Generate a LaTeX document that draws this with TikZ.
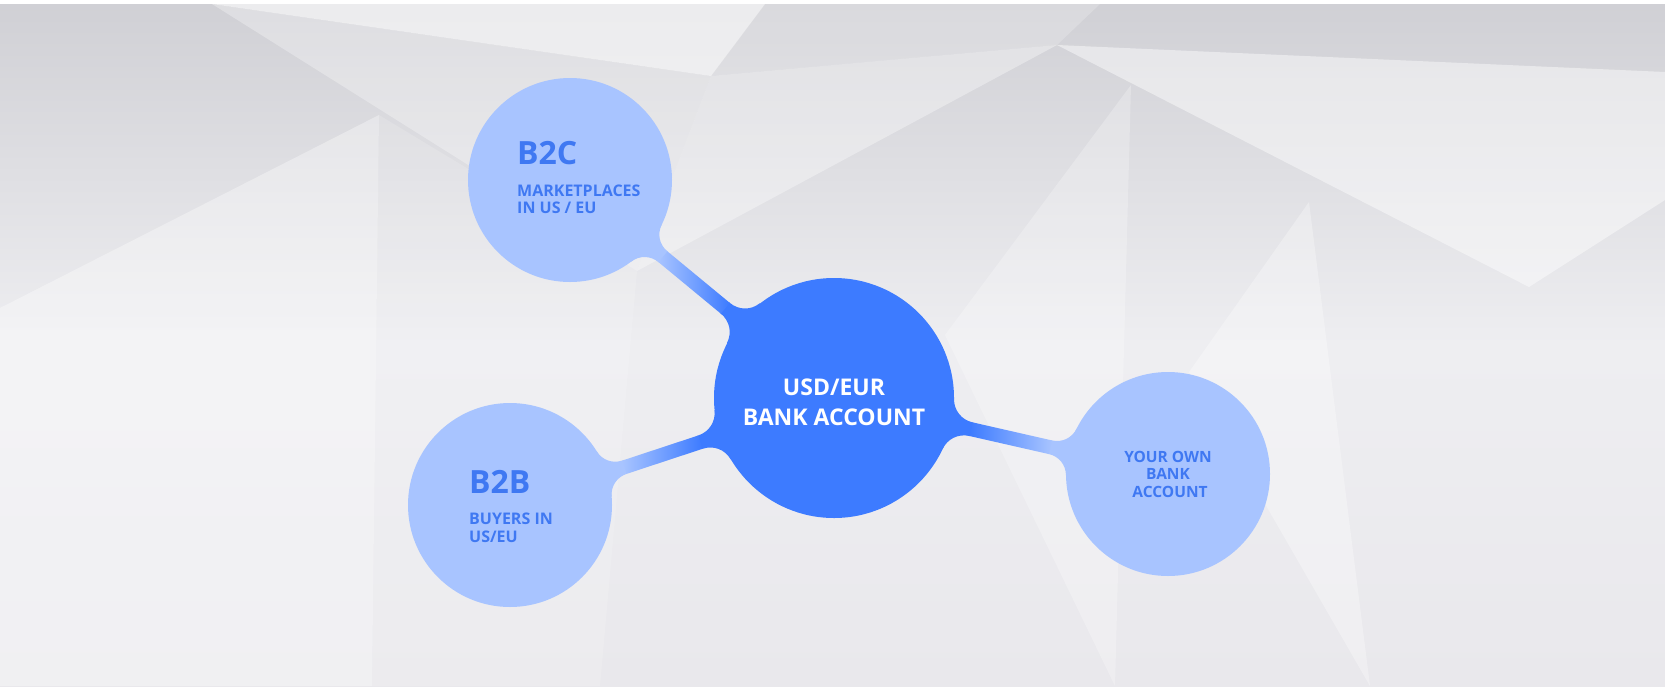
\documentclass[tikz,border=0pt]{standalone}
\usepackage{fontspec}
\setmainfont{Open Sans}
\definecolor{lightb}{HTML}{A8C4FF}
\definecolor{darkb}{HTML}{3D7BFF}
\definecolor{txtb}{HTML}{3F78F2}
\definecolor{bgtop}{HTML}{D0D0D5}
\definecolor{bgmid}{HTML}{EEEEF1}
\definecolor{bgbot}{HTML}{E9E8EC}
% metaball-like bridge between two circles: Ax Ay rA Bx By rB halfwidth filletA filletB
\newcommand\mybridge[9]{%
\pgfmathsetmacro\dX{#4-#1}%
\pgfmathsetmacro\dY{#5-#2}%
\pgfmathsetmacro\LL{10*veclen(\dX/10,\dY/10)}%
\pgfmathsetmacro\ang{atan2(-\dY,\dX)}%
\pgfmathsetmacro\tA{10*sqrt(((#3-#7)/10)*((#3+#7+2*#8)/10))}%
\pgfmathsetmacro\kA{#3/(#3+#8)}%
\pgfmathsetmacro\PAx{\kA*\tA}%
\pgfmathsetmacro\PAy{\kA*(#7+#8)}%
\pgfmathsetmacro\XAx{\tA-#8*(#3-#7)/\tA}%
\pgfmathsetmacro\cAax{\PAx+0.6*(\XAx-\PAx)}%
\pgfmathsetmacro\cAay{\PAy+0.6*(#7-\PAy)}%
\pgfmathsetmacro\cAbx{\tA+0.6*(\XAx-\tA)}%
\pgfmathsetmacro\tB{10*sqrt(((#6-#7)/10)*((#6+#7+2*#9)/10))}%
\pgfmathsetmacro\kB{#6/(#6+#9)}%
\pgfmathsetmacro\PBx{\LL-\kB*\tB}%
\pgfmathsetmacro\PBy{\kB*(#7+#9)}%
\pgfmathsetmacro\QBx{\LL-\tB}%
\pgfmathsetmacro\XBx{\QBx+#9*(#6-#7)/\tB}%
\pgfmathsetmacro\cBax{\PBx+0.6*(\XBx-\PBx)}%
\pgfmathsetmacro\cBay{\PBy+0.6*(#7-\PBy)}%
\pgfmathsetmacro\cBbx{\QBx+0.6*(\XBx-\QBx)}%
\begin{scope}[shift={(#1,#2)},rotate=\ang]
\fill[\bcolA] (0,0) -- (\PAx,\PAy) .. controls (\cAax,\cAay) and (\cAbx,#7) .. (\tA,#7) -- (\tA+0.8,#7) -- (\tA+0.8,-#7) -- (\tA,-#7) .. controls (\cAbx,-#7) and (\cAax,-\cAay) .. (\PAx,-\PAy) -- cycle;
\fill[\bcolB] (\LL,0) -- (\PBx,\PBy) .. controls (\cBax,\cBay) and (\cBbx,#7) .. (\QBx,#7) -- (\QBx-0.8,#7) -- (\QBx-0.8,-#7) -- (\QBx,-#7) .. controls (\cBbx,-#7) and (\cBax,-\cBay) .. (\PBx,-\PBy) -- cycle;
\shade[left color=\bcolA, right color=\bcolB] (\tA,-#7) rectangle (\QBx,#7);
\end{scope}}
\tikzset{
  bubble/.style={circle, inner sep=0, outer sep=0, fill=lightb, minimum size=204pt},
  hub/.style={circle, inner sep=0, outer sep=0, fill=darkb, minimum size=240pt},
  bigtitle/.style={inner sep=0, text=txtb, font=\fontsize{32}{38}\selectfont\bfseries},
  subtxt/.style={inner sep=0, text=txtb, font=\fontsize{16}{18}\selectfont\bfseries},
  righttxt/.style={inner sep=0, text=txtb, font=\fontsize{15.5}{17}\selectfont\bfseries},
  hubtxt/.style={inner sep=0, text=white, font=\fontsize{23}{29}\selectfont\bfseries},
  facet/.style={fill=white}
}
\begin{document}
\begin{tikzpicture}[x=1pt,y=-1pt]
\useasboundingbox (0,0) rectangle (1665,686);
% background
\fill[white] (0,0) rectangle (1665,686);
\shade[top color=bgtop, bottom color=bgbot, middle color=bgmid] (0,4) rectangle (1665,686);
\fill[facet, opacity=0.6] (212,4) -- (765,4) -- (711,76) -- cycle;
\fill[facet, opacity=0.3] (212,4) -- (711,76) -- (637,271) -- cycle;
\fill[facet, opacity=0.35] (711,76) -- (1057,45) -- (637,271) -- cycle;
\fill[facet, opacity=0.2] (765,4) -- (1100,4) -- (1057,45) -- (711,76) -- cycle;
\fill[facet, opacity=0.45] (1057,45) -- (1665,72) -- (1665,200) -- (1529,287) -- cycle;
\fill[facet, opacity=0.25] (1131,85) -- (945,335) -- (1115,686) -- cycle;
\fill[facet, opacity=0.3] (1309,202) -- (1189,372) -- (1370,686) -- cycle;
\fill[facet, opacity=0.35] (0,308) -- (379,115) -- (372,686) -- (0,686) -- cycle;
\fill[facet, opacity=0.15] (379,115) -- (637,271) -- (600,686) -- (372,686) -- cycle;
% bridges
\def\bcolA{lightb}\def\bcolB{darkb}
\mybridge{570}{180}{102}{834}{398}{120}{7}{22}{24}
\mybridge{510}{505}{102}{834}{398}{120}{7}{22}{24}
\def\bcolA{darkb}\def\bcolB{lightb}
\mybridge{834}{398}{120}{1168}{474}{102}{7}{24}{22}
% circles
\node[bubble] (b2c) at (570,180) {};
\node[bubble] (b2b) at (510,505) {};
\node[bubble] (own) at (1168,474) {};
\node[hub] (hub) at (834,398) {};
% texts
\node[bigtitle, anchor=base west] (b2ct) at (517,164) {B2C};
\node[subtxt, anchor=base west] (b2cl1) at (517,196) {MARKETPLACES};
\node[subtxt, anchor=base west] (b2cl2) at (517,213) {IN US / EU};
\node[bigtitle, anchor=base west] (b2bt) at (469,493) {B2B};
\node[subtxt, anchor=base west] (b2bl1) at (469,524) {BUYERS IN};
\node[subtxt, anchor=base west] (b2bl2) at (469,542) {US/EU};
\node[hubtxt, anchor=base] (hubl1) at (834,395) {USD/EUR};
\node[hubtxt, anchor=base] (hubl2) at (834,425) {BANK ACCOUNT};
\node[righttxt, anchor=base] (ownl1) at (1168,462) {YOUR OWN};
\node[righttxt, anchor=base] (ownl2) at (1168,479) {BANK};
\node[righttxt, anchor=base] (ownl3) at (1170,497) {ACCOUNT};
\end{tikzpicture}
\end{document}
